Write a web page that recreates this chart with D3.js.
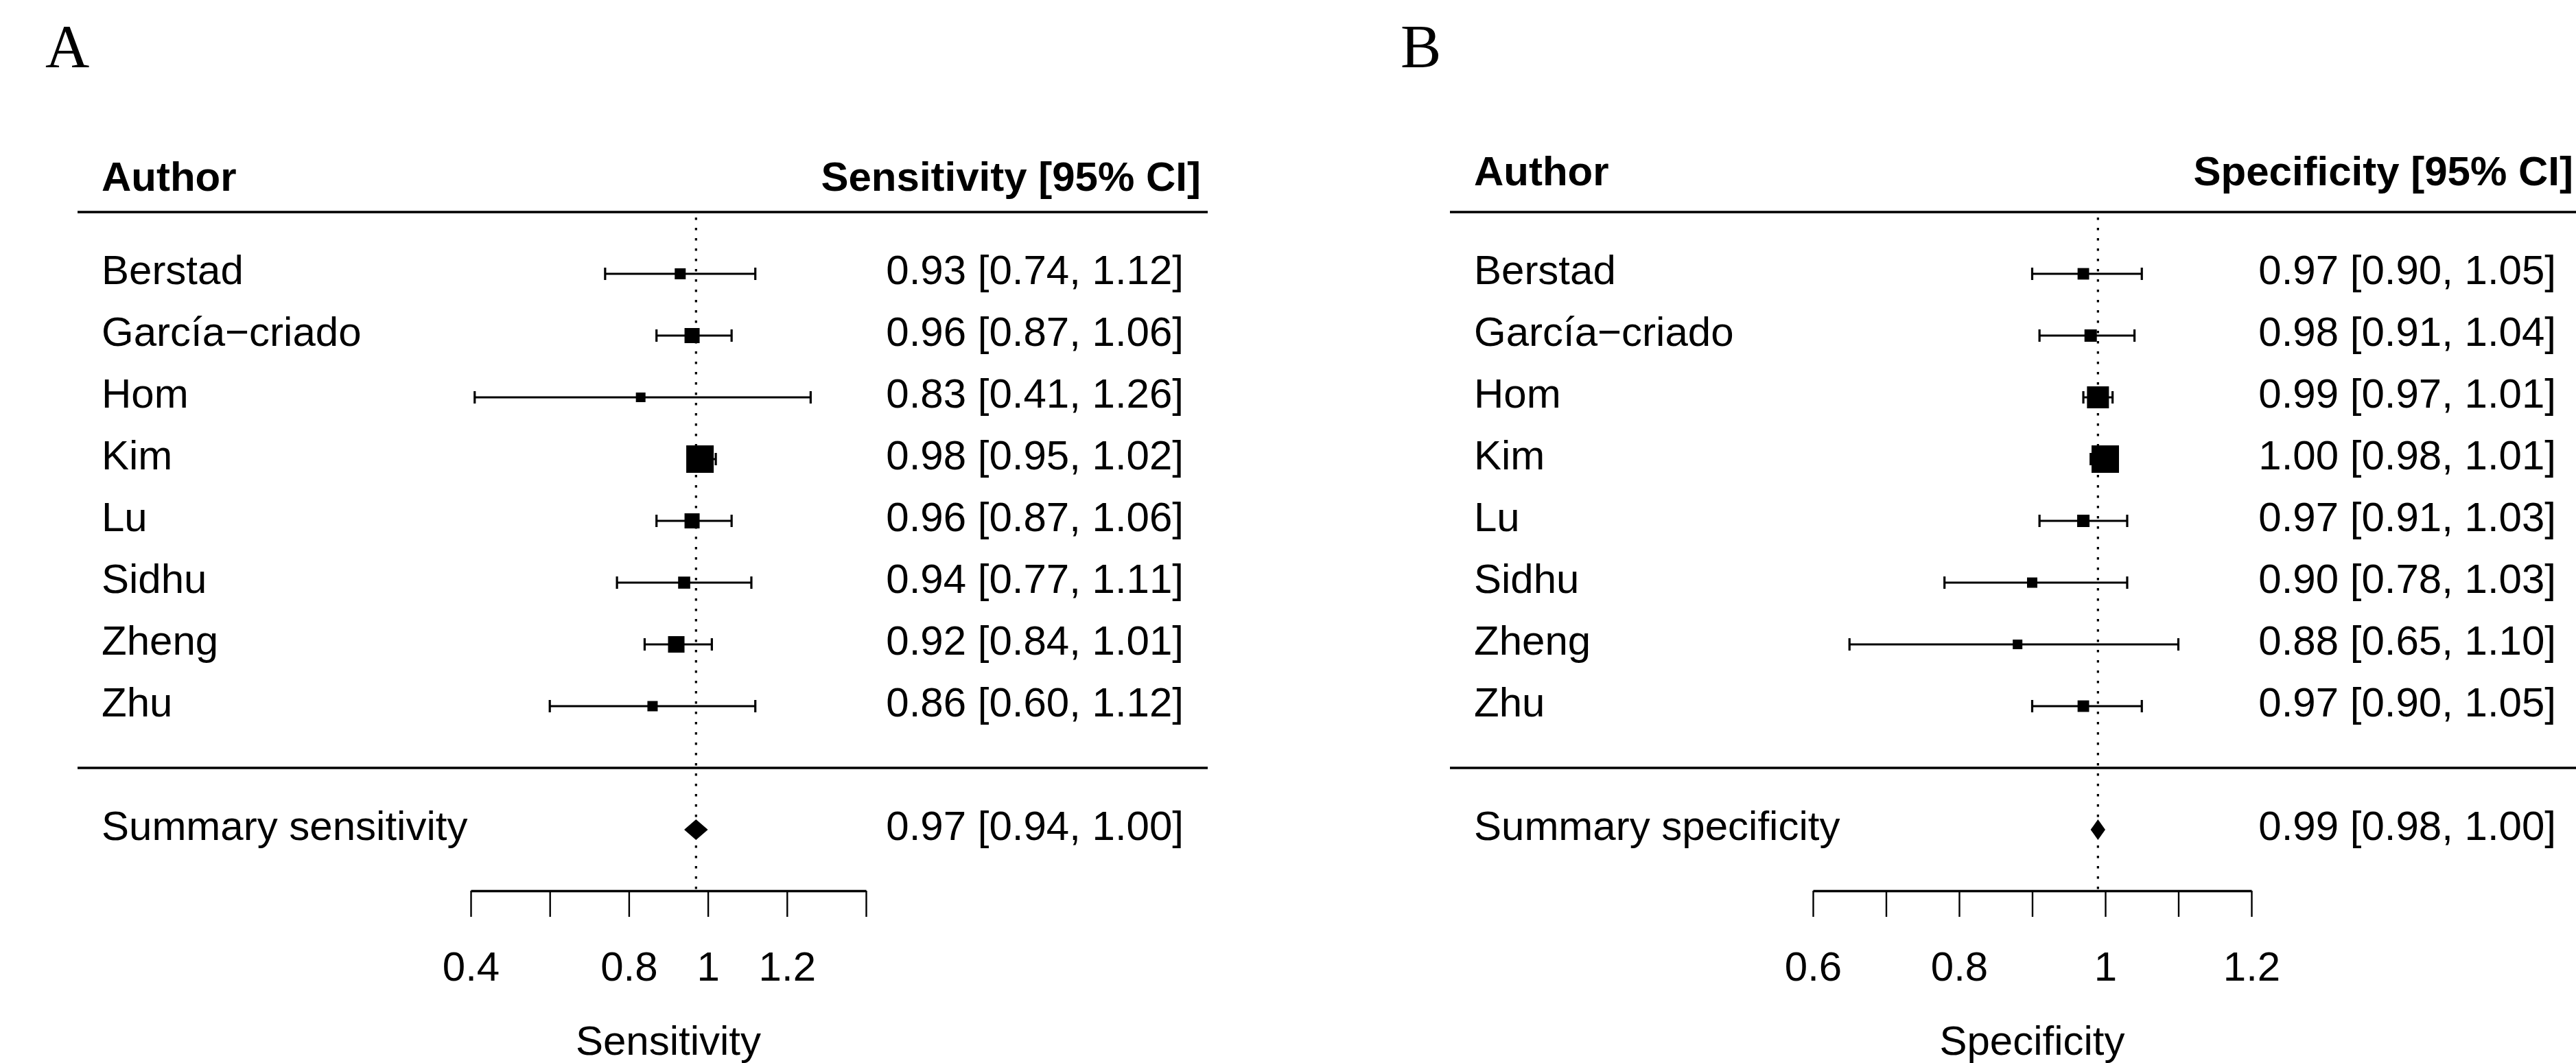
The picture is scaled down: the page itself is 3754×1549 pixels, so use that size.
<!DOCTYPE html>
<html>
<head>
<meta charset="utf-8">
<script src="https://cdn.jsdelivr.net/npm/d3@7/dist/d3.min.js"></script>
<style>
  html, body { margin: 0; padding: 0; background: #fff; }
  svg { display: block; }
  text { font-family: "Liberation Sans", Arial, Helvetica, sans-serif; fill: #000;
         font-kerning: none; font-feature-settings: "kern" 0; }
</style>
</head>
<body>
<script>
// ---------------- data ----------------
const authors = ["Berstad", "García\u2212criado", "Hom", "Kim", "Lu", "Sidhu", "Zheng", "Zhu"];

const sensEst = [0.93, 0.96, 0.83, 0.98, 0.96, 0.94, 0.92, 0.86];
const sensLo  = [0.74, 0.87, 0.41, 0.95, 0.87, 0.77, 0.84, 0.60];
const sensHi  = [1.12, 1.06, 1.26, 1.02, 1.06, 1.11, 1.01, 1.12];
const sensWeight = [0.40, 0.55, 0.35, 1.00, 0.55, 0.44, 0.60, 0.375];
const sensSummary = [0.97, 0.94, 1.00];
const sensTicks = [0.4, 0.6, 0.8, 1.0, 1.2, 1.4];
const sensTickLabels = ["0.4", "", "0.8", "1", "1.2", ""];

const specEst = [0.97, 0.98, 0.99, 1.00, 0.97, 0.90, 0.88, 0.97];
const specLo  = [0.90, 0.91, 0.97, 0.98, 0.91, 0.78, 0.65, 0.90];
const specHi  = [1.05, 1.04, 1.01, 1.01, 1.03, 1.03, 1.10, 1.05];
const specWeight = [0.42, 0.45, 0.80, 1.00, 0.45, 0.375, 0.35, 0.42];
const specSummary = [0.99, 0.98, 1.00];
const specTicks = [0.6, 0.7, 0.8, 0.9, 1.0, 1.1, 1.2];
const specTickLabels = ["0.6", "", "0.8", "", "1", "", "1.2"];

// ---------------- drawing ----------------
const W = 3754, H = 1549;
const svg = d3.select("body").append("svg")
  .attr("width", W).attr("height", H)
  .attr("viewBox", `0 0 ${W} ${H}`);
svg.append("rect").attr("width", W).attr("height", H).attr("fill", "#fff");

const FS = 60;
const fmt = v => v.toFixed(2);

const rowY = d3.scalePoint().domain(d3.range(authors.length)).range([399, 1029]);
const yTopLine = 309, yBotLine = 1119, ySummary = 1209, yAxis = 1298;
const sizeScale = d3.scaleLinear().domain([0, 1]).range([0, 40]);

function panel(cfg) {
  const g = svg.append("g").attr("transform", `translate(${cfg.dx},0)`);
  const x = d3.scaleLinear().domain(cfg.domain).range(cfg.range);

  svg.append("text").attr("x", cfg.letterX).attr("y", 97)
    .style("font-family", '"Liberation Serif", "Times New Roman", serif')
    .style("font-size", "89px").text(cfg.letter);

  g.append("text").attr("x", 148).attr("y", cfg.headY)
    .style("font-weight", "bold").style("font-size", FS + "px").text("Author");
  g.append("text").attr("x", 1750).attr("y", cfg.headY)
    .attr("text-anchor", "end")
    .style("font-weight", "bold").style("font-size", FS + "px").text(cfg.header);

  g.append("line").attr("x1", 113).attr("x2", 1760).attr("y1", yTopLine).attr("y2", yTopLine)
    .attr("stroke", "#000").attr("stroke-width", 3.4);
  g.append("line").attr("x1", 113).attr("x2", 1760).attr("y1", yBotLine).attr("y2", yBotLine)
    .attr("stroke", "#000").attr("stroke-width", 3.4);

  const plot = svg.append("g");
  plot.append("line")
    .attr("x1", x(cfg.summary[0])).attr("x2", x(cfg.summary[0]))
    .attr("y1", yTopLine + 8).attr("y2", yAxis)
    .attr("stroke", "#000").attr("stroke-width", 3.2)
    .attr("stroke-dasharray", "3.5 11.5");

  const idx = d3.range(authors.length);

  g.selectAll(".lab").data(idx).join("text")
    .attr("x", 148).attr("y", i => rowY(i) + 15)
    .style("font-size", FS + "px").text(i => authors[i]);
  g.selectAll(".ann").data(idx).join("text")
    .attr("x", 1725).attr("y", i => rowY(i) + 15)
    .attr("text-anchor", "end")
    .style("font-size", FS + "px")
    .text(i => `${fmt(cfg.est[i])} [${fmt(cfg.lo[i])}, ${fmt(cfg.hi[i])}]`);

  plot.selectAll(".ci").data(idx).join("line")
    .attr("x1", i => x(cfg.lo[i])).attr("x2", i => x(cfg.hi[i]))
    .attr("y1", i => rowY(i)).attr("y2", i => rowY(i))
    .attr("stroke", "#000").attr("stroke-width", 3.2);
  ["lo", "hi"].forEach(k => {
    plot.selectAll(".cap" + k).data(idx).join("line")
      .attr("x1", i => x(cfg[k][i])).attr("x2", i => x(cfg[k][i]))
      .attr("y1", i => rowY(i) - 9).attr("y2", i => rowY(i) + 9)
      .attr("stroke", "#000").attr("stroke-width", 3.2);
  });
  plot.selectAll(".sq").data(idx).join("rect")
    .attr("x", i => x(cfg.est[i]) - sizeScale(cfg.w[i]) / 2)
    .attr("y", i => rowY(i) - sizeScale(cfg.w[i]) / 2)
    .attr("width", i => sizeScale(cfg.w[i]))
    .attr("height", i => sizeScale(cfg.w[i]))
    .attr("fill", "#000");

  g.append("text").attr("x", 148).attr("y", ySummary + 15)
    .style("font-size", FS + "px").text(cfg.summaryLabel);
  g.append("text").attr("x", 1725).attr("y", ySummary + 15)
    .attr("text-anchor", "end").style("font-size", FS + "px")
    .text(`${fmt(cfg.summary[0])} [${fmt(cfg.summary[1])}, ${fmt(cfg.summary[2])}]`);
  const s = cfg.summary;
  plot.append("polygon")
    .attr("points", [[x(s[1]), ySummary], [x(s[0]), ySummary - 15], [x(s[2]), ySummary], [x(s[0]), ySummary + 15]]
      .map(p => p.join(",")).join(" "))
    .attr("fill", "#000");

  const axis = d3.axisBottom(x)
    .tickValues(cfg.ticks)
    .tickFormat((d, i) => cfg.tickLabels[i])
    .tickSize(38).tickSizeOuter(0).tickPadding(50);
  const ax = svg.append("g").attr("transform", `translate(0,${yAxis})`).call(axis);
  ax.select(".domain").attr("stroke", "#000").attr("stroke-width", 3.4);
  ax.selectAll(".tick line").attr("stroke", "#000").attr("stroke-width", 2.4);
  ax.selectAll(".tick text")
    .style("font-family", '"Liberation Sans", Arial, Helvetica, sans-serif')
    .style("font-size", FS + "px").attr("fill", "#000");

  svg.append("text")
    .attr("x", (cfg.range[0] + cfg.range[1]) / 2).attr("y", 1537)
    .attr("text-anchor", "middle").style("font-size", FS + "px")
    .text(cfg.axisTitle);
}

panel({
  dx: 0, letter: "A", letterX: 66, headY: 278,
  header: "Sensitivity [95% CI]",
  est: sensEst, lo: sensLo, hi: sensHi, w: sensWeight, summary: sensSummary,
  summaryLabel: "Summary sensitivity",
  domain: [0.4, 1.4], range: [686, 1262],
  ticks: sensTicks, tickLabels: sensTickLabels, axisTitle: "Sensitivity"
});

panel({
  dx: 2000, letter: "B", letterX: 2041, headY: 270,
  header: "Specificity [95% CI]",
  est: specEst, lo: specLo, hi: specHi, w: specWeight, summary: specSummary,
  summaryLabel: "Summary specificity",
  domain: [0.6, 1.2], range: [2642, 3281],
  ticks: specTicks, tickLabels: specTickLabels, axisTitle: "Specificity"
});
</script>
</body>
</html>
